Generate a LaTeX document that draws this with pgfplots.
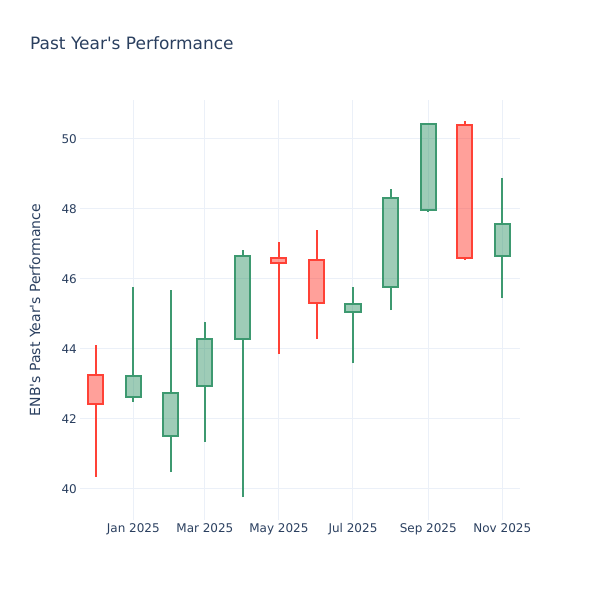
\documentclass[border=0pt]{standalone}
\usepackage{fontspec}
\setmainfont{DejaVu Sans}
\usepackage{pgfplots}
\pgfplotsset{compat=1.18}

\definecolor{txt}{HTML}{2A3F5F}
\definecolor{gridc}{HTML}{EBF0F8}
\definecolor{inc}{HTML}{3D9970}
\definecolor{dec}{HTML}{FF4136}

\pgfplotsset{
  body/.style={draw=#1, fill=#1, fill opacity=0.5, line width=2bp, line join=miter, mark=none},
  wick/.style={draw=#1, line width=2bp, mark=none, unbounded coords=jump},
}

\begin{document}
\begin{tikzpicture}
\path[use as bounding box] (0,0) rectangle (600bp,600bp);
\begin{axis}[
  at={(80bp,80bp)}, anchor=south west,
  scale only axis, width=440bp, height=420bp,
  xmin=-43.9, xmax=318.6,
  ymin=39.114, ymax=51.114,
  xtick={0,59,120,181,243,304},
  xticklabels={Jan 2025,Mar 2025,May 2025,Jul 2025,Sep 2025,Nov 2025},
  ytick={40,42,44,46,48,50},
  grid=major,
  grid style={gridc, line width=1bp},
  axis line style={draw=none},
  major tick length=0pt,
  /pgf/number format/assume math mode=true,
  tick label style={text=txt, font=\fontsize{12bp}{14bp}\selectfont, inner sep=0pt},
  xticklabel style={anchor=north, yshift=-3bp},
  yticklabel style={anchor=east, xshift=-3bp},
  ylabel={ENB\textquotesingle s Past Year\textquotesingle s Performance},
  every axis y label/.style={at={([xshift=-45bp]axis description cs:0,0.5)}, rotate=90, anchor=center,
    text=txt, font=\fontsize{14bp}{16bp}\selectfont},
]
% x = days since 1 Jan 2025 (monthly candles, Dec 2024 .. Nov 2025)
% wicks: low -> lower body edge, upper body edge -> high
\addplot[wick=inc] coordinates {
  (0,42.49)(0,42.64) (0,nan) (0,43.23)(0,45.76) (0,nan)
  (31,40.48)(31,41.51) (31,nan) (31,42.73)(31,45.69) (31,nan)
  (59,41.35)(59,42.95) (59,nan) (59,44.29)(59,44.78) (59,nan)
  (90,39.77)(90,44.29) (90,nan) (90,46.66)(90,46.83) (90,nan)
  (181,43.59)(181,45.05) (181,nan) (181,45.29)(181,45.78) (181,nan)
  (212,45.11)(212,45.78) (212,nan) (212,48.31)(212,48.56) (212,nan)
  (243,47.92)(243,47.97) (243,nan) (243,50.43)(243,50.47) (243,nan)
  (304,45.45)(304,46.67) (304,nan) (304,47.57)(304,48.88)
};
\addplot[wick=dec] coordinates {
  (-31,40.35)(-31,42.43) (-31,nan) (-31,43.26)(-31,44.11) (-31,nan)
  (120,43.85)(120,46.46) (120,nan) (120,46.60)(120,47.07) (120,nan)
  (151,44.28)(151,45.31) (151,nan) (151,46.53)(151,47.40) (151,nan)
  (273,46.54)(273,46.61) (273,nan) (273,50.40)(273,50.51)
};
% bodies: open / close, 12.4 days wide
\addplot[body=dec] coordinates {(-37.2,43.26)(-24.8,43.26)(-24.8,42.43)(-37.2,42.43)} -- cycle;
\addplot[body=inc] coordinates {(-6.2,42.64)(6.2,42.64)(6.2,43.23)(-6.2,43.23)} -- cycle;
\addplot[body=inc] coordinates {(24.8,41.51)(37.2,41.51)(37.2,42.73)(24.8,42.73)} -- cycle;
\addplot[body=inc] coordinates {(52.8,42.95)(65.2,42.95)(65.2,44.29)(52.8,44.29)} -- cycle;
\addplot[body=inc] coordinates {(83.8,44.29)(96.2,44.29)(96.2,46.66)(83.8,46.66)} -- cycle;
\addplot[body=dec] coordinates {(113.8,46.60)(126.2,46.60)(126.2,46.46)(113.8,46.46)} -- cycle;
\addplot[body=dec] coordinates {(144.8,46.53)(157.2,46.53)(157.2,45.31)(144.8,45.31)} -- cycle;
\addplot[body=inc] coordinates {(174.8,45.05)(187.2,45.05)(187.2,45.29)(174.8,45.29)} -- cycle;
\addplot[body=inc] coordinates {(205.8,45.78)(218.2,45.78)(218.2,48.31)(205.8,48.31)} -- cycle;
\addplot[body=inc] coordinates {(236.8,47.97)(249.2,47.97)(249.2,50.43)(236.8,50.43)} -- cycle;
\addplot[body=dec] coordinates {(266.8,50.40)(279.2,50.40)(279.2,46.61)(266.8,46.61)} -- cycle;
\addplot[body=inc] coordinates {(297.8,46.67)(310.2,46.67)(310.2,47.57)(297.8,47.57)} -- cycle;
\end{axis}
\node[anchor=base west, inner sep=0pt, text=txt, font=\fontsize{17bp}{20bp}\selectfont]
  at (30bp,550bp) {Past Year\textquotesingle s Performance};
\end{tikzpicture}
\end{document}
